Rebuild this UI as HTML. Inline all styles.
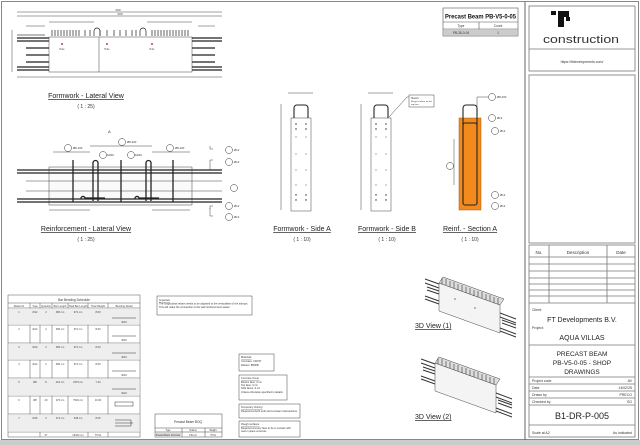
<!DOCTYPE html>
<html><head><meta charset="utf-8"><style>
html,body{margin:0;padding:0;background:#fff}
svg{display:block;font-family:"Liberation Sans",sans-serif}
</style></head><body>
<svg width="640" height="445" viewBox="0 0 640 445" xmlns="http://www.w3.org/2000/svg">
<rect x="0" y="0" width="640" height="445" fill="#fff"/>
<rect x="1.5" y="1.5" width="637" height="438" fill="none" stroke="#888" stroke-width="1"/>
<rect x="0" y="440" width="640" height="5" fill="#ccc"/>
<line x1="525" y1="2" x2="525" y2="440" stroke="#666" stroke-width="1"/>

<!-- Right panel -->
<g fill="none" stroke="#777" stroke-width="0.8">
<rect x="529" y="6" width="106" height="65"/>
<line x1="529" y1="49" x2="635" y2="49"/>
<rect x="529" y="75" width="106" height="168"/>
<rect x="529" y="245" width="106" height="192"/>
<line x1="529" y1="257" x2="635" y2="257"/>
<line x1="549" y1="245" x2="549" y2="303"/><line x1="607" y1="245" x2="607" y2="303"/>
<line x1="529" y1="264" x2="635" y2="264"/><line x1="529" y1="271" x2="635" y2="271"/>
<line x1="529" y1="278" x2="635" y2="278"/><line x1="529" y1="284" x2="635" y2="284"/>
<line x1="529" y1="290" x2="635" y2="290"/><line x1="529" y1="296" x2="635" y2="296"/>
<line x1="529" y1="303" x2="635" y2="303"/><line x1="529" y1="345" x2="635" y2="345"/>
<line x1="529" y1="377" x2="635" y2="377"/><line x1="529" y1="384" x2="635" y2="384"/>
<line x1="529" y1="391" x2="635" y2="391"/><line x1="529" y1="398" x2="635" y2="398"/>
<line x1="529" y1="405" x2="635" y2="405"/><line x1="529" y1="425" x2="635" y2="425"/>
</g>
<g fill="#111">
<rect x="551" y="11" width="5" height="4"/><rect x="558" y="11" width="11" height="6"/>
<rect x="558" y="17" width="6" height="10"/><rect x="566" y="17" width="4" height="4"/>
</g>
<text x="543" y="43" font-size="11" fill="#333" textLength="76" lengthAdjust="spacingAndGlyphs">construction</text>
<text x="582" y="63" font-size="3.5" text-anchor="middle" fill="#333">https://ftdevelopments.com/</text>
<g font-size="4.5" fill="#333" text-anchor="middle">
<text x="539" y="254">No.</text><text x="578" y="254">Description</text><text x="621" y="254">Date</text>
</g>
<g font-size="3.5" fill="#333">
<text x="532" y="311">Client:</text>
<text x="532" y="329">Project:</text>
<text x="532" y="382">Project code</text><text x="632" y="382" text-anchor="end">AV</text>
<text x="532" y="389">Date</text><text x="632" y="389" text-anchor="end">14/02/25</text>
<text x="532" y="396">Drawn by</text><text x="632" y="396" text-anchor="end">PRECO</text>
<text x="532" y="403">Checked by</text><text x="632" y="403" text-anchor="end">SO</text>
<text x="532" y="434">Scale at A2</text><text x="632" y="434" text-anchor="end">As indicated</text>
</g>
<g fill="#222" text-anchor="middle">
<text x="582" y="322" font-size="7">FT Developments B.V.</text>
<text x="582" y="340" font-size="7">AQUA VILLAS</text>
<text x="582" y="356" font-size="6.5">PRECAST BEAM</text>
<text x="582" y="365" font-size="6.5">PB-V5-0-05 - SHOP</text>
<text x="582" y="374" font-size="6.5">DRAWINGS</text>
<text x="582" y="419" font-size="9">B1-DR-P-005</text>
</g>

<!-- Title box -->
<g fill="none" stroke="#555" stroke-width="0.6">
<rect x="443" y="8" width="75" height="28"/>
<line x1="443" y1="22" x2="518" y2="22"/><line x1="443" y1="29" x2="518" y2="29"/>
<line x1="479" y1="22" x2="479" y2="36"/>
</g>
<rect x="443.3" y="29.3" width="74.4" height="6.4" fill="#ccc"/>
<text x="445" y="18.5" font-size="6.3" font-weight="bold" fill="#111" textLength="71" lengthAdjust="spacingAndGlyphs">Precast Beam PB-V5-0-05</text>
<g font-size="3.2" text-anchor="middle" fill="#333"><text x="461" y="27">Type</text><text x="498" y="27">Count</text><text x="461" y="34">PB-35-0-04</text><text x="498" y="34">1</text></g>

<!-- Formwork lateral -->
<g stroke="#444" stroke-width="0.5" fill="none">
<line x1="17" y1="12" x2="222" y2="12"/><line x1="17" y1="16" x2="49" y2="16"/><line x1="49" y1="16" x2="192" y2="16"/><line x1="192" y1="16" x2="222" y2="16"/>
<line x1="49" y1="22" x2="94" y2="22"/><line x1="147" y1="22" x2="192" y2="22"/>
<line x1="26" y1="26" x2="45" y2="26"/><line x1="198" y1="26" x2="215" y2="26"/>
<rect x="49" y="37" width="143" height="35"/>
<line x1="99" y1="37" x2="99" y2="72"/>
<line x1="17" y1="77" x2="222" y2="77"/>
<line x1="12" y1="30" x2="12" y2="72"/>
</g>
<g stroke="#222" stroke-width="0.7">
<path d="M52 30v6M55 30v6M58 30v6M61 30v6M64 30v6M67 30v6M70 30v6M73 30v6M76 30v6M79 30v6M85 30v6M90 30v6M100 30v6M107 30v6M114 30v6M120 30v6M126 30v6M132 30v6M136 30v6M152 30v6M155 30v6M158 30v6M161 30v6M164 30v6M167 30v6M170 30v6M173 30v6M176 30v6M179 30v6M182 30v6M185 30v6M188 30v6"/>
<path d="M94 36v-5a3 3 0 0 1 6 0v5M140 36v-5a3 3 0 0 1 6 0v5" fill="none"/>
</g>
<g stroke="#222" stroke-width="1.2">
<line x1="17" y1="38" x2="49" y2="38"/><line x1="17" y1="41" x2="49" y2="41"/><line x1="26" y1="48" x2="49" y2="48"/><line x1="26" y1="55" x2="49" y2="55"/><line x1="26" y1="62" x2="49" y2="62"/><line x1="17" y1="67" x2="49" y2="67"/><line x1="17" y1="70" x2="49" y2="70"/>
<line x1="192" y1="38" x2="222" y2="38"/><line x1="192" y1="41" x2="222" y2="41"/><line x1="192" y1="48" x2="215" y2="48"/><line x1="192" y1="55" x2="215" y2="55"/><line x1="192" y1="62" x2="215" y2="62"/><line x1="192" y1="67" x2="222" y2="67"/><line x1="192" y1="70" x2="222" y2="70"/>
</g>
<rect x="17" y="34" width="28" height="2" fill="#bbb"/>
<g fill="#a00"><circle cx="62" cy="44" r="0.9"/><circle cx="107" cy="44" r="0.9"/><circle cx="152" cy="44" r="0.9"/></g>
<g font-size="2.5" fill="#444" text-anchor="middle"><text x="62" y="50">Hole</text><text x="107" y="50">Hole</text><text x="152" y="50">Hole</text><text x="118" y="11">4300</text><text x="120" y="15">3200</text></g>
<text x="86" y="98" font-size="7" text-anchor="middle" fill="#222" text-decoration="underline">Formwork - Lateral View</text>
<text x="86" y="108" font-size="5" text-anchor="middle" fill="#333">( 1 : 25)</text>

<!-- Reinforcement lateral -->
<g stroke="#444" stroke-width="0.5" fill="none">
<rect x="49" y="167" width="143" height="38" fill="#fafafa"/>
<line x1="53" y1="152" x2="90" y2="152"/><line x1="90" y1="146" x2="152" y2="146"/><line x1="152" y1="152" x2="190" y2="152"/>
<line x1="49" y1="210" x2="90" y2="210"/><line x1="152" y1="210" x2="190" y2="210"/>
<line x1="26" y1="181" x2="222" y2="181"/><line x1="26" y1="191" x2="222" y2="191"/>
<path d="M213 149h-3v-3M213 160h-3v10M213 206h-3v3M213 216h-3v-8"/>
</g>
<g stroke="#222" stroke-width="1.3" fill="none">
<line x1="17" y1="170" x2="222" y2="170"/><line x1="17" y1="173" x2="222" y2="173"/>
<line x1="17" y1="199" x2="222" y2="199"/><line x1="17" y1="202" x2="222" y2="202"/>
<line x1="73" y1="160" x2="73" y2="202"/><line x1="121" y1="160" x2="121" y2="202"/><line x1="173" y1="160" x2="173" y2="202"/>
<path d="M93 201v-38a2.5 2.5 0 0 1 5 0v38M146 201v-38a2.5 2.5 0 0 1 5 0v38"/>
<path d="M81 199a2 2 0 0 1 4 -1h20M135 199a2 2 0 0 1 4 -1h20"/>
</g>
<g fill="#fff" stroke="#333" stroke-width="0.5">
<circle cx="68" cy="148" r="3.5"/><circle cx="122" cy="142" r="3.5"/><circle cx="170" cy="148" r="3.5"/>
<circle cx="103" cy="155" r="3.5"/><circle cx="131" cy="155" r="3.5"/>
<circle cx="229" cy="150" r="3.5"/><circle cx="229" cy="162" r="3.5"/><circle cx="234" cy="188" r="3.5"/><circle cx="229" cy="206" r="3.5"/><circle cx="229" cy="217" r="3.5"/>
</g>
<g font-size="2.8" fill="#333"><text x="73" y="149">Ø8-100</text><text x="127" y="143">Ø8-200</text><text x="175" y="149">Ø8-100</text><text x="107" y="156">1Ø16</text><text x="135" y="156">1Ø16</text>
<text x="234" y="151">Ø12</text><text x="234" y="163">Ø12</text><text x="234" y="207">Ø12</text><text x="234" y="218">Ø12</text><text x="108" y="133" font-size="4">A</text></g>
<text x="86" y="231" font-size="7" text-anchor="middle" fill="#222" text-decoration="underline">Reinforcement - Lateral View</text>
<text x="86" y="241" font-size="5" text-anchor="middle" fill="#333">( 1 : 25)</text>

<!-- Side A / B -->
<g stroke="#444" stroke-width="0.5" fill="none">
<rect x="291" y="118" width="20" height="93"/><rect x="371" y="118" width="20" height="93"/>
<line x1="288" y1="93" x2="313" y2="93"/><line x1="368" y1="93" x2="393" y2="93"/>
<line x1="281" y1="104" x2="281" y2="210"/><line x1="361" y1="104" x2="361" y2="210"/>
<path d="M389 117l18 -20h2"/>
</g>
<rect x="409" y="95" width="25" height="12" fill="#fff" stroke="#444" stroke-width="0.5"/>
<text x="411" y="99" font-size="2.5" fill="#333">Sketch</text><text x="411" y="102" font-size="2.2" fill="#333">Rough surface on the</text><text x="411" y="105" font-size="2.2" fill="#333">top face</text>
<g stroke="#222" stroke-width="1.1" fill="none">
<path d="M294 118v-10a3 3 0 0 1 3 -3h8a3 3 0 0 1 3 3v10"/><path d="M374 118v-10a3 3 0 0 1 3 -3h8a3 3 0 0 1 3 3v10"/>
</g>
<g fill="#222">
<circle cx="296" cy="124" r="0.7"/><circle cx="306" cy="124" r="0.7"/><circle cx="296" cy="129" r="0.7"/><circle cx="306" cy="129" r="0.7"/><circle cx="296" cy="137" r="0.5"/><circle cx="306" cy="137" r="0.5"/><circle cx="296" cy="154" r="0.5"/><circle cx="306" cy="154" r="0.5"/><circle cx="296" cy="170" r="0.5"/><circle cx="306" cy="170" r="0.5"/><circle cx="296" cy="185" r="0.5"/><circle cx="306" cy="185" r="0.5"/><circle cx="296" cy="195" r="0.7"/><circle cx="306" cy="195" r="0.7"/><circle cx="296" cy="200" r="0.7"/><circle cx="306" cy="200" r="0.7"/>
<circle cx="376" cy="124" r="0.7"/><circle cx="386" cy="124" r="0.7"/><circle cx="376" cy="129" r="0.7"/><circle cx="386" cy="129" r="0.7"/><circle cx="376" cy="137" r="0.5"/><circle cx="386" cy="137" r="0.5"/><circle cx="376" cy="154" r="0.5"/><circle cx="386" cy="154" r="0.5"/><circle cx="376" cy="170" r="0.5"/><circle cx="386" cy="170" r="0.5"/><circle cx="376" cy="185" r="0.5"/><circle cx="386" cy="185" r="0.5"/><circle cx="376" cy="195" r="0.7"/><circle cx="386" cy="195" r="0.7"/><circle cx="376" cy="200" r="0.7"/><circle cx="386" cy="200" r="0.7"/>
</g>
<g font-size="7" text-anchor="middle" fill="#222" text-decoration="underline"><text x="302" y="231">Formwork - Side A</text><text x="387" y="231">Formwork - Side B</text><text x="470" y="231">Reinf. - Section A</text></g>
<g font-size="5" text-anchor="middle" fill="#333"><text x="302" y="241">( 1 : 10)</text><text x="387" y="241">( 1 : 10)</text><text x="470" y="241">( 1 : 10)</text></g>

<!-- Section A -->
<rect x="459" y="118" width="22" height="92" fill="#f28a1e" stroke="#a45a10" stroke-width="0.5"/>
<g stroke="#222" stroke-width="1.1" fill="none">
<path d="M463 125v-17a3 3 0 0 1 3 -3h8a3 3 0 0 1 3 3v17"/>
<rect x="463" y="123" width="14" height="82" rx="2"/>
</g>
<g stroke="#444" stroke-width="0.5" fill="none"><path d="M477 108v-11h11"/><line x1="454" y1="139" x2="454" y2="185"/></g>
<g fill="#fff" stroke="#333" stroke-width="0.5">
<circle cx="492" cy="97" r="3.5"/><circle cx="492" cy="118" r="3.5"/><circle cx="495" cy="131" r="3.5"/><circle cx="450" cy="166" r="3.5"/><circle cx="495" cy="195" r="3.5"/><circle cx="495" cy="206" r="3.5"/>
</g>
<g font-size="2.8" fill="#333"><text x="497" y="98">Ø8-200</text><text x="497" y="119">Ø12</text><text x="500" y="132">Ø12</text><text x="500" y="196">Ø12</text><text x="500" y="207">Ø12</text></g>

<!-- Bar schedule -->
<g stroke="#555" stroke-width="0.5" fill="none">
<rect x="8" y="295" width="132" height="142"/>
<line x1="8" y1="303" x2="140" y2="303"/><line x1="8" y1="308" x2="140" y2="308"/>
<line x1="8" y1="325" x2="140" y2="325"/><line x1="8" y1="343" x2="140" y2="343"/><line x1="8" y1="360" x2="140" y2="360"/><line x1="8" y1="378" x2="140" y2="378"/><line x1="8" y1="396" x2="140" y2="396"/><line x1="8" y1="414" x2="140" y2="414"/><line x1="8" y1="432" x2="140" y2="432"/>
<line x1="30" y1="303" x2="30" y2="432"/><line x1="40" y1="303" x2="40" y2="437"/><line x1="52" y1="303" x2="52" y2="432"/><line x1="68" y1="303" x2="68" y2="432"/><line x1="88" y1="303" x2="88" y2="437"/><line x1="108" y1="303" x2="108" y2="437"/>
</g>
<g fill="#eee"><rect x="8.3" y="308.3" width="131.4" height="16.5"/><rect x="8.3" y="343.3" width="131.4" height="16.5"/><rect x="8.3" y="378.3" width="131.4" height="17.5"/><rect x="8.3" y="414.3" width="131.4" height="17.5"/></g>
<g stroke="#333" stroke-width="0.6"><line x1="112" y1="318" x2="136" y2="318"/><line x1="112" y1="336" x2="136" y2="336"/><line x1="112" y1="353" x2="136" y2="353"/><line x1="112" y1="371" x2="136" y2="371"/><line x1="112" y1="389" x2="136" y2="389"/></g>
<text x="74" y="301" font-size="3.2" text-anchor="middle" fill="#333">Bar Bending Schedule</text>
<g font-size="2.6" fill="#444" text-anchor="middle">
<text x="19" y="307">Rebar Nr</text><text x="35" y="307">Type</text><text x="46" y="307">Quantity</text><text x="60" y="307">Bar Length</text><text x="78" y="307">Total Bar Length</text><text x="98" y="307">Total Weight</text><text x="124" y="307">Bending Detail</text>
<text x="19" y="313">1</text><text x="35" y="313">Ø12</text><text x="46" y="313">2</text><text x="60" y="313">486 cm</text><text x="78" y="313">972 cm</text><text x="98" y="313">8.60</text>
<text x="19" y="330">2</text><text x="35" y="330">Ø12</text><text x="46" y="330">2</text><text x="60" y="330">486 cm</text><text x="78" y="330">972 cm</text><text x="98" y="330">8.60</text>
<text x="19" y="348">3</text><text x="35" y="348">Ø12</text><text x="46" y="348">2</text><text x="60" y="348">486 cm</text><text x="78" y="348">972 cm</text><text x="98" y="348">8.60</text>
<text x="19" y="365">4</text><text x="35" y="365">Ø12</text><text x="46" y="365">2</text><text x="60" y="365">486 cm</text><text x="78" y="365">972 cm</text><text x="98" y="365">8.60</text>
<text x="19" y="383">5</text><text x="35" y="383">Ø8</text><text x="46" y="383">8</text><text x="60" y="383">422 cm</text><text x="78" y="383">3376 cm</text><text x="98" y="383">7.40</text>
<text x="19" y="401">6</text><text x="35" y="401">Ø8</text><text x="46" y="401">20</text><text x="60" y="401">276 cm</text><text x="78" y="401">7520 cm</text><text x="98" y="401">10.00</text>
<text x="19" y="419">7</text><text x="35" y="419">Ø16</text><text x="46" y="419">2</text><text x="60" y="419">274 cm</text><text x="78" y="419">548 cm</text><text x="98" y="419">8.65</text>
<text x="46" y="436">37</text><text x="78" y="436">16422 cm</text><text x="98" y="436">75.61</text>
<text x="124" y="323">4016</text><text x="124" y="341">4016</text><text x="124" y="358">4016</text><text x="124" y="376">4016</text><text x="124" y="394">4022</text>
</g>
<g stroke="#333" stroke-width="0.5" fill="none"><rect x="115" y="402" width="18" height="4"/><path d="M115 420h16v6h-16M115 423h18"/></g>

<!-- notes -->
<g fill="#fff" stroke="#444" stroke-width="0.5">
<rect x="157" y="296" width="95" height="19"/>
<rect x="239" y="354" width="35" height="17"/>
<rect x="239" y="375" width="48" height="25"/>
<rect x="239" y="404" width="61" height="14"/>
<rect x="239" y="421" width="61" height="16"/>
<rect x="155" y="414" width="67" height="23"/>
</g>
<g font-size="2.6" fill="#333">
<text x="159" y="301" text-decoration="underline">Important</text><text x="159" y="304.5">The longitudinal rebars needs to be adjusted to the verticalities of the stirrups.</text><text x="159" y="308">This will make the connection to the wall reinforcement easier.</text>
<text x="241" y="358" text-decoration="underline">Materials</text><text x="241" y="362">Concrete: C30/37</text><text x="241" y="366">Rebars: B500B</text>
<text x="241" y="379" text-decoration="underline">Concrete Cover</text><text x="241" y="383">Bottom face: 3 cm</text><text x="241" y="386">Top face: 3 cm</text><text x="241" y="389">Side faces: 3 cm</text><text x="241" y="393">Unless otherwise specified in details</text>
<text x="241" y="408" text-decoration="underline">Temporary shoring</text><text x="241" y="412">Required at both ends and at beam intersections.</text>
<text x="241" y="425" text-decoration="underline">Rough surfaces</text><text x="241" y="429">Required at every face to be in contact with</text><text x="241" y="432">cast in place concrete.</text>
</g>
<g stroke="#444" stroke-width="0.5"><line x1="155" y1="428" x2="222" y2="428"/><line x1="155" y1="432" x2="222" y2="432"/><line x1="182" y1="428" x2="182" y2="437"/><line x1="205" y1="428" x2="205" y2="437"/></g>
<rect x="155.3" y="432.3" width="26.5" height="4.5" fill="#ddd"/>
<text x="188" y="423" font-size="3.2" text-anchor="middle" fill="#333">Precast Beam BOQ</text>
<g font-size="2.3" fill="#333" text-anchor="middle"><text x="168" y="431">Type</text><text x="193" y="431">Volume</text><text x="213" y="431">Weight</text><text x="168" y="436">Precast Beam Concrete</text><text x="193" y="436">0.84 m³</text><text x="213" y="436">75.61</text></g>

<!-- 3D views -->
<g id="v3d">
<g stroke="#333" stroke-width="1" fill="none">
<path d="M425 279l14 5M425 283l14 5M427 287l12 4M427 290l12 4M425 296l14 5M425 299l14 5"/>
<path d="M500 313l16 6M500 317l16 6M502 320l14 5M502 323l14 5M500 328l16 6M500 331l16 6"/>
</g>
<path d="M439 283l61 22v28l-61 -22z" fill="#f4f4f4" stroke="#444" stroke-width="0.5"/>
<path d="M439 283l4 -6l61 22l-4 6z" fill="#ddd" stroke="#444" stroke-width="0.5"/>
<g stroke="#333" stroke-width="0.6"><path d="M442 284v-6M446 285v-6M450 287v-6M454 288v-6M458 290v-6M462 291v-6M466 293v-6M470 294v-6M474 296v-6M478 297v-6M482 298v-6M486 300v-6M490 301v-6M494 303v-6M498 304v-6"/></g>
</g>
<use href="#v3d" x="-4" y="80"/>
<g fill="#222"><circle cx="455" cy="299" r="0.6"/><circle cx="475" cy="308" r="0.6"/></g>
<g font-size="7" fill="#222" text-decoration="underline"><text x="415" y="328">3D View (1)</text><text x="415" y="419">3D View (2)</text></g>
</svg>
</body></html>
